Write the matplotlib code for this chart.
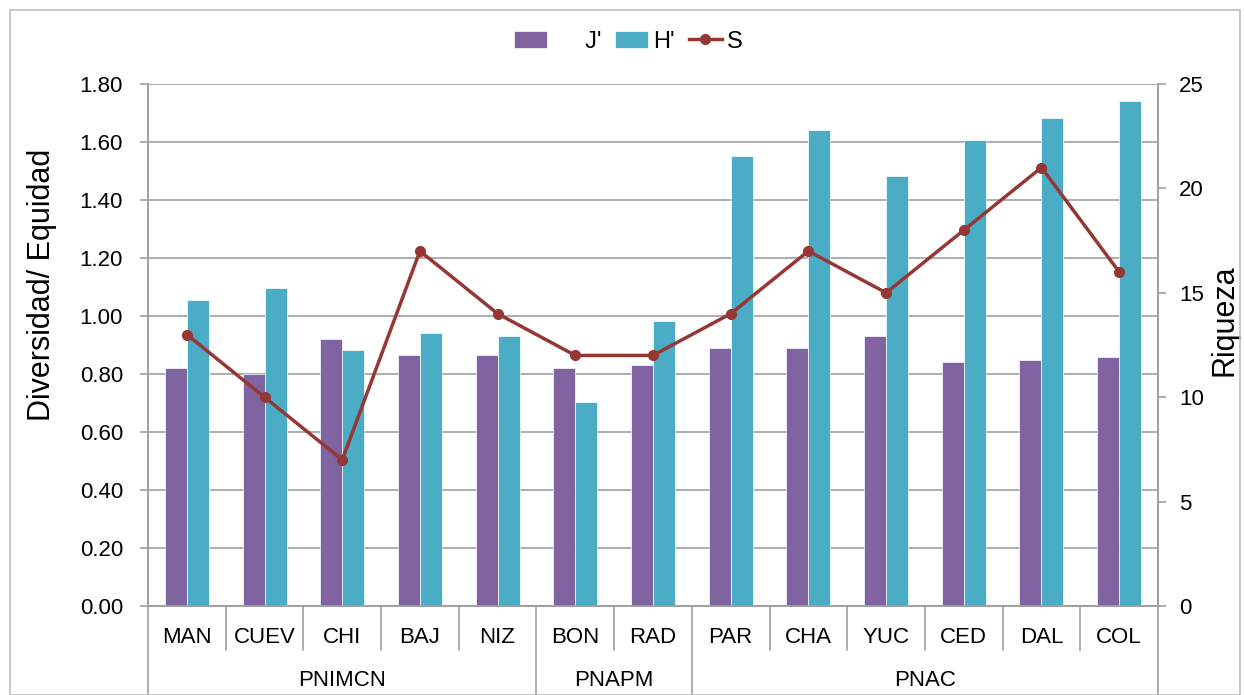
import numpy as np
import matplotlib.pyplot as plt
from matplotlib.patches import Rectangle
import matplotlib.transforms as mtransforms

plt.rcParams['font.family'] = ['Liberation Sans', 'DejaVu Sans']

#data
sites = ["MAN", "CUEV", "CHI", "BAJ", "NIZ", "BON", "RAD",
         "PAR", "CHA", "YUC", "CED", "DAL", "COL"]
groups = ["PNIMCN", "PNAPM", "PNAC"]
group_sizes = [5, 2, 6]
j_vals = [0.82, 0.80, 0.92, 0.865, 0.865, 0.82, 0.83,
          0.89, 0.89, 0.93, 0.84, 0.85, 0.86]
h_vals = [1.055, 1.097, 0.883, 0.94, 0.93, 0.703, 0.983,
          1.552, 1.641, 1.483, 1.607, 1.683, 1.741]
s_vals = [13, 10, 7, 17, 14, 12, 12, 14, 17, 15, 18, 21, 16]

c_j = "#8064A2"
c_h = "#4BACC6"
c_s = "#953735"
grey = "#A0A0A0"

fig = plt.figure(figsize=(12.44, 6.95), dpi=100)
ax = fig.add_axes([148/1244, 89/695, 1010/1244, 522/695])
ax2 = ax.twinx()

x = np.arange(len(sites))
w = 0.283
ax.bar(x - w/2, j_vals, w, color=c_j, edgecolor="white", linewidth=0.5, label="J'", zorder=3)
ax.bar(x + w/2, h_vals, w, color=c_h, edgecolor="white", linewidth=0.5, label="H'", zorder=3)
ax2.plot(x, s_vals, color=c_s, lw=2.5, marker="o", ms=7, label="S", zorder=4)

ax.set_xlim(-0.5, len(sites) - 0.5)
ax.set_ylim(0, 1.8)
ax.set_yticks(np.arange(0, 1.81, 0.2))
ax.set_yticklabels([f"{v:.2f}" for v in np.arange(0, 1.81, 0.2)])
ax2.set_ylim(0, 25)
ax2.set_yticks([0, 5, 10, 15, 20, 25])

ax.yaxis.grid(True, color=grey, lw=1.2, zorder=0)
ax.set_axisbelow(True)
for a in (ax, ax2):
    a.spines["top"].set_visible(False)
    for sp in ("left", "right", "bottom"):
        a.spines[sp].set_color(grey)
        a.spines[sp].set_linewidth(1.2)
    a.tick_params(axis="y", labelsize=16, color=grey, length=6, width=1.2, pad=6)
ax.tick_params(axis="y", pad=12)
ax2.tick_params(axis="y", pad=9)
ax.set_xticks([])

#axis titles sit a bit above centre, as in the original
ax.set_ylabel("Diversidad/ Equidad", fontsize=22, labelpad=16)
ax.yaxis.label.set_y(0.615)
ax2.set_ylabel("Riqueza", fontsize=22, labelpad=4)
ax2.yaxis.label.set_y(0.548)

#two-level category axis below the plot
trans = mtransforms.blended_transform_factory(ax.transData, ax.transAxes)
for i, name in enumerate(sites):
    ax.text(i, -0.06, name, transform=trans, ha="center", va="center", fontsize=16)
bounds = np.cumsum([0] + group_sizes) - 0.5
for i in range(len(sites) + 1):
    xb = i - 0.5
    ybot = -0.175 if xb in bounds else -0.085
    ax.plot([xb, xb], [0, ybot], transform=trans, color=grey, lw=1.2, clip_on=False)
for g, lo, hi in zip(groups, bounds[:-1], bounds[1:]):
    ax.text((lo + hi) / 2, -0.142, g, transform=trans, ha="center", va="center", fontsize=16)

#legend on top (Excel leaves a wide gap before J')
h1, l1 = ax.get_legend_handles_labels()
h2, l2 = ax2.get_legend_handles_labels()
labels = ["     " + l1[0], l1[1]] + l2
fig.legend(h1 + h2, labels, loc="center", bbox_to_anchor=(0.505, 0.94), ncol=3,
           frameon=False, fontsize=17, handlelength=1.4, columnspacing=0.6, handletextpad=0.2)

#outer chart border
fig.patches.append(Rectangle((10/1244, 0), 1230/1244, 685/695, transform=fig.transFigure,
                             fill=False, edgecolor="#BFBFBF", lw=1.2))

fig.savefig("out.png", dpi=100)
